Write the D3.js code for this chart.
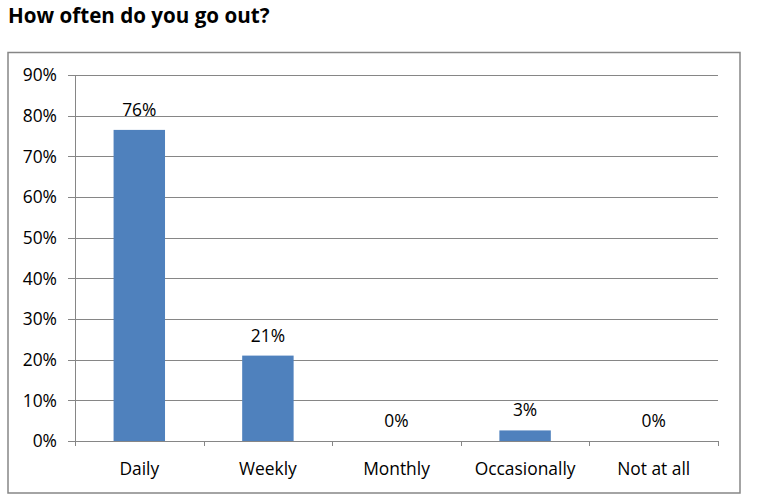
<!DOCTYPE html>
<html><head><meta charset="utf-8">
<script src="https://cdn.jsdelivr.net/npm/d3@7"></script>
<style>body{margin:0;background:#fff}svg{display:block}</style>
</head><body>
<script>
const categories = ["Daily","Weekly","Monthly","Occasionally","Not at all"];
const values = [0.765, 0.21, 0, 0.026, 0];
const labels = ["76%","21%","0%","3%","0%"];
const yTicks = [0,0.1,0.2,0.3,0.4,0.5,0.6,0.7,0.8,0.9];
const title = "How often do you go out?";

const W=757,H=502;
const svg=d3.select("body").append("svg").attr("width",W).attr("height",H);
const font="'Open Sans', sans-serif";
svg.append("text").attr("x",8).attr("y",23).attr("font-family",font).attr("font-weight","bold")
  .attr("font-size",20.6).attr("fill","#000").text(title);
svg.append("rect").attr("x",8).attr("y",52.5).attr("width",732).attr("height",440.5)
  .attr("fill","none").attr("stroke","#868686").attr("stroke-width",1.5);

const L=75,R=718,T=75,B=441;
const x=d3.scaleBand().domain(categories).range([L,R]).paddingInner(0.6).paddingOuter(0.3);
const xb=d3.scaleLinear().domain([0,5]).range([L,R]);
const y=d3.scaleLinear().domain([0,0.9]).range([B,T]);
const grid="#868686";
const fs=17.4;
svg.append("g").selectAll("line").data(yTicks).join("line")
  .attr("x1",L-7).attr("x2",R).attr("y1",d=>Math.round(y(d))+0.5).attr("y2",d=>Math.round(y(d))+0.5)
  .attr("stroke",grid).attr("stroke-width",1);
svg.append("line").attr("x1",L+0.5).attr("x2",L+0.5).attr("y1",T).attr("y2",B+5).attr("stroke",grid);
svg.append("g").selectAll("line").data(d3.range(1,6)).join("line")
  .attr("x1",d=>Math.round(xb(d))+0.5).attr("x2",d=>Math.round(xb(d))+0.5).attr("y1",B).attr("y2",B+5).attr("stroke",grid);
svg.append("g").selectAll("text").data(yTicks).join("text")
  .attr("x",57).attr("y",d=>y(d)).attr("dy","0.36em").attr("text-anchor","end")
  .attr("font-family",font).attr("font-size",fs).attr("fill","#000")
  .text(d=>Math.round(d*100)+"%");
svg.append("g").selectAll("rect").data(categories).join("rect")
  .attr("x",d=>x(d)).attr("width",x.bandwidth())
  .attr("y",(d,i)=>y(values[i])).attr("height",(d,i)=>B-y(values[i])).attr("fill","#4F81BD");
svg.append("g").selectAll("text").data(categories).join("text")
  .attr("x",d=>x(d)+x.bandwidth()/2).attr("y",(d,i)=>y(values[i])-14).attr("text-anchor","middle")
  .attr("font-family",font).attr("font-size",fs).attr("fill","#000").text((d,i)=>labels[i]);
svg.append("g").selectAll("text").data(categories).join("text")
  .attr("x",d=>x(d)+x.bandwidth()/2).attr("y",475).attr("text-anchor","middle")
  .attr("font-family",font).attr("font-size",fs).attr("fill","#000").text(d=>d);
</script>
</body></html>
